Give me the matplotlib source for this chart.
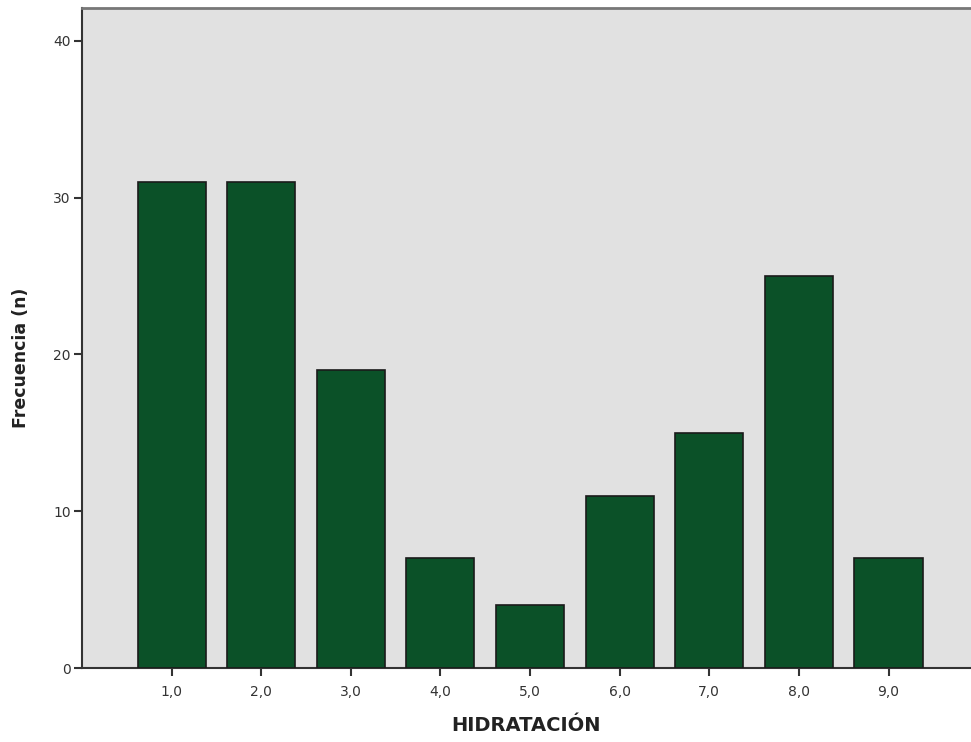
import matplotlib
matplotlib.use("Agg")
import matplotlib.pyplot as plt

categories = [1, 2, 3, 4, 5, 6, 7, 8, 9]
tick_labels = ["1,0", "2,0", "3,0", "4,0", "5,0", "6,0", "7,0", "8,0", "9,0"]
values = [31, 31, 19, 7, 4, 11, 15, 25, 7]
y_ticks = [0, 10, 20, 30, 40]

fig = plt.figure(figsize=(9.71, 7.42), dpi=100)
ax = fig.add_axes([0.0844, 0.0997, 0.9156, 0.8895])
ax.set_facecolor("#e1e1e1")
ax.bar(categories, values, width=0.76, color="#0b5128", edgecolor="#1a1a1a", linewidth=1.2, zorder=3)
ax.set_xlim(0.0, 9.92)
ax.set_ylim(0, 42.1)
ax.set_xticks(categories)
ax.set_xticklabels(tick_labels, fontsize=10, color="#333333")
ax.set_yticks(y_ticks)
ax.set_yticklabels([str(v) for v in y_ticks], fontsize=10, color="#333333")
ax.tick_params(axis="both", length=6, width=1.5, color="#333333")
ax.tick_params(axis="x", pad=6)
ax.tick_params(axis="y", pad=2)
ax.spines["right"].set_visible(False)
ax.spines["top"].set_color("#777777")
ax.spines["top"].set_linewidth(2)
ax.spines["left"].set_color("#333333")
ax.spines["left"].set_linewidth(1.5)
ax.spines["bottom"].set_color("#333333")
ax.spines["bottom"].set_linewidth(1.5)
ax.set_xlabel("HIDRATACIÓN", fontsize=14, fontweight="bold", color="#222222")
ax.set_ylabel("Frecuencia (n)", fontsize=12.5, fontweight="bold", color="#222222")
ax.xaxis.set_label_coords(0.5, -0.072, transform=ax.transAxes)
ax.yaxis.set_label_coords(-0.058, 0.47, transform=ax.transAxes)
fig.savefig("out.png", dpi=100)
